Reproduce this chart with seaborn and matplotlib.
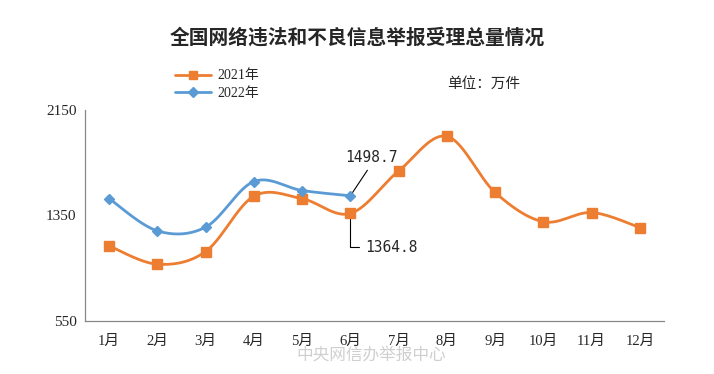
import numpy as np
import pandas as pd
import matplotlib
matplotlib.use("Agg")
import matplotlib.pyplot as plt
import seaborn as sns
from matplotlib.lines import Line2D

months = ["1月", "2月", "3月", "4月", "5月", "6月", "7月", "8月", "9月", "10月", "11月", "12月"]
v2021 = [1119, 980, 1076, 1496, 1477, 1364.8, 1687, 1950, 1524, 1302, 1372, 1258]
v2022 = [1478, 1233, 1261, 1607, 1539, 1498.7]
yticks = [550, 1350, 2150]

ORANGE = "#ED7D31"
BLUE = "#5B9BD5"

sns.set_theme(style="white")
plt.rcParams['font.family'] = ['Liberation Serif', 'Noto Sans CJK SC']


def smooth(xs, ys, n=30):
    # Excel-like smoothed line (Catmull-Rom via cubic Bezier)
    xs = np.asarray(xs, float)
    ys = np.asarray(ys, float)
    P = np.column_stack([xs, ys])
    out = []
    for i in range(len(P) - 1):
        p0 = P[i - 1] if i > 0 else P[i]
        p1 = P[i]
        p2 = P[i + 1]
        p3 = P[i + 2] if i + 2 < len(P) else P[i + 1]
        c1 = p1 + (p2 - p0) / 6.0
        c2 = p2 - (p3 - p1) / 6.0
        t = np.linspace(0, 1, n)[:, None]
        seg = (1 - t) ** 3 * p1 + 3 * (1 - t) ** 2 * t * c1 + 3 * (1 - t) * t ** 2 * c2 + t ** 3 * p2
        out.append(seg if i == 0 else seg[1:])
    seg = np.vstack(out)
    return seg[:, 0], seg[:, 1]


fig = plt.figure(figsize=(7.14, 3.74), dpi=100)
ax = fig.add_axes([0.119, 0.142, 0.811, 0.564])

x21 = np.arange(len(v2021))
x22 = np.arange(len(v2022))
sx21, sy21 = smooth(x21, v2021)
sx22, sy22 = smooth(x22, v2022)

df21 = pd.DataFrame({"x": sx21, "y": sy21})
df22 = pd.DataFrame({"x": sx22, "y": sy22})
sns.lineplot(data=df21, x="x", y="y", ax=ax, color=ORANGE, linewidth=2.0, sort=False)
sns.lineplot(data=df22, x="x", y="y", ax=ax, color=BLUE, linewidth=2.0, sort=False)
ax.plot(x21, v2021, linestyle="none", marker="s", markersize=6.5, color=ORANGE)
ax.plot(x22, v2022, linestyle="none", marker="D", markersize=5.5, color=BLUE)

ax.set_xlim(-0.5, len(months) - 0.5)
ax.set_ylim(550, 2150)
ax.set_yticks(yticks)
ax.set_yticklabels([str(v) for v in yticks], fontsize=11)
ax.set_xticks(x21)
ax.set_xticklabels(months, fontsize=10.5)
ax.set_xticks(np.arange(-0.5, len(months)), minor=True)
ax.tick_params(axis="x", which="major", length=0, pad=10)
ax.tick_params(axis="x", which="minor", length=5, color="#888888", width=0.8, direction="out")
ax.tick_params(axis="y", length=0, pad=6)
ax.set_xlabel("")
ax.set_ylabel("")
for s in ["top", "right"]:
    ax.spines[s].set_visible(False)
for s in ["left", "bottom"]:
    ax.spines[s].set_color("#888888")
    ax.spines[s].set_linewidth(0.9)

# annotations
ax.annotate("1498.7", xy=(5, v2022[5]), xytext=(5.43, 1735), fontsize=10.5,
            family=["DejaVu Sans Mono"], ha="center", va="bottom",
            arrowprops=dict(arrowstyle="-", color="black", lw=0.8, shrinkA=2, shrinkB=3,
                            relpos=(0.5, 0.0)))
ax.annotate("1364.8", xy=(5, v2021[5]), xytext=(5.3, 1109), fontsize=10.5,
            family=["DejaVu Sans Mono"], ha="left", va="center",
            arrowprops=dict(arrowstyle="-", color="black", lw=0.8, shrinkA=2, shrinkB=4,
                            connectionstyle="angle,angleA=0,angleB=90,rad=0"))

# title, legend, unit
fig.text(0.5, 0.898, "全国网络违法和不良信息举报受理总量情况", ha="center", va="center",
         fontsize=14.2, fontweight="bold", family=["Noto Sans CJK SC"])
handles = [Line2D([], [], color=ORANGE, marker="s", markersize=6, linewidth=2),
           Line2D([], [], color=BLUE, marker="D", markersize=5, linewidth=2)]
fig.legend(handles, ["2021年", "2022年"], loc="center left", bbox_to_anchor=(0.235, 0.773),
           frameon=False, fontsize=10, handlelength=2.6, labelspacing=0.35, borderpad=0,
           handletextpad=0.5)
fig.text(0.626, 0.775, "单位：万件", ha="left", va="center", fontsize=10.5,
         family=["Noto Sans CJK SC"])

# watermark
fig.text(0.52, 0.05, "中央网信办举报中心", ha="center", va="center", fontsize=12,
         color="#bbbbbb", alpha=0.7, family=["Noto Sans CJK SC"])

fig.savefig("out.png", dpi=100)
